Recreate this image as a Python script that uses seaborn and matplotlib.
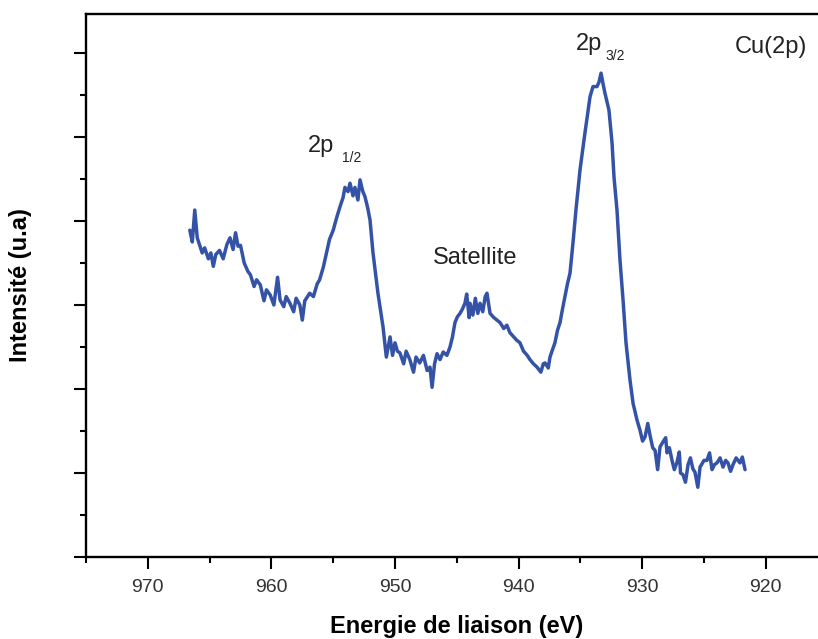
import pandas as pd
import matplotlib
matplotlib.use('Agg')
import matplotlib.pyplot as plt
from matplotlib.ticker import MultipleLocator
import seaborn as sns

# Cu(2p) XPS spectrum
energy = [966.6, 966.4, 966.2, 966.0, 965.8, 965.6, 965.4, 965.1, 964.9, 964.7,
          964.5, 964.2, 963.9, 963.6, 963.35, 963.1, 962.9, 962.7, 962.5, 962.2,
          961.9, 961.7, 961.4, 961.2, 960.9, 960.6, 960.4, 960.1, 959.8, 959.5,
          959.3, 959.0, 958.8, 958.5, 958.2, 958.0, 957.7, 957.5, 957.3, 956.9,
          956.6, 956.3, 956.1, 955.8, 955.5, 955.3, 955.0, 954.7, 954.45, 954.2,
          954.05, 953.8, 953.64, 953.4, 953.24, 953.0, 952.83, 952.6, 952.43, 952.2,
          952.02, 951.78, 951.38, 950.97, 950.7, 950.4, 950.2, 950.0, 949.8, 949.6,
          949.3, 949.1, 948.8, 948.5, 948.3, 948.0, 947.7, 947.4, 947.17, 947.0,
          946.8, 946.6, 946.36, 946.1, 945.8, 945.55, 945.35, 945.15, 944.95, 944.74,
          944.55, 944.34, 944.2, 944.0, 943.93, 943.7, 943.5, 943.3, 943.12, 942.9,
          942.7, 942.56, 942.31, 942.0, 941.75, 941.5, 941.2, 940.95, 940.7, 940.4,
          940.15, 939.89, 939.6, 939.3, 939.08, 938.8, 938.51, 938.2, 938.0, 937.86,
          937.6, 937.46, 937.3, 937.06, 936.85, 936.65, 936.45, 936.25, 936.05, 935.84,
          935.6, 935.36, 935.03, 934.63, 934.22, 933.98, 933.66, 933.5, 933.33, 933.15,
          933.01, 932.69, 932.44, 932.28, 932.04, 931.8, 931.55, 931.31, 930.99, 930.74,
          930.42, 930.18, 929.97, 929.77, 929.55, 929.37, 929.15, 928.96, 928.75, 928.56,
          928.32, 928.1, 927.99, 927.8, 927.59, 927.4, 927.18, 927.0, 926.9, 926.7,
          926.5, 926.29, 926.1, 925.9, 925.73, 925.5, 925.32, 925.0, 924.76, 924.55,
          924.35, 924.15, 923.95, 923.7, 923.46, 923.25, 923.06, 922.85, 922.65, 922.4,
          922.09, 921.9, 921.68]
intensity = [3.89, 3.75, 4.13, 3.80, 3.71, 3.62, 3.68, 3.55, 3.62, 3.46,
             3.60, 3.65, 3.55, 3.72, 3.80, 3.66, 3.86, 3.70, 3.71, 3.50,
             3.40, 3.36, 3.22, 3.30, 3.24, 3.05, 3.18, 3.12, 3.00, 3.33,
             3.06, 2.98, 3.10, 3.02, 2.92, 3.08, 3.00, 2.82, 3.05, 3.14,
             3.10, 3.25, 3.30, 3.45, 3.65, 3.78, 3.89, 4.05, 4.17, 4.28,
             4.40, 4.35, 4.45, 4.30, 4.40, 4.25, 4.49, 4.35, 4.29, 4.15,
             4.01, 3.62, 3.14, 2.74, 2.38, 2.62, 2.40, 2.55, 2.45, 2.43,
             2.30, 2.45, 2.35, 2.20, 2.38, 2.31, 2.40, 2.22, 2.26, 2.02,
             2.30, 2.42, 2.35, 2.44, 2.40, 2.50, 2.62, 2.79, 2.86, 2.90,
             2.95, 3.02, 3.13, 2.85, 3.02, 2.88, 3.08, 2.90, 3.02, 2.92,
             3.10, 3.14, 2.90, 2.85, 2.82, 2.79, 2.72, 2.76, 2.67, 2.62,
             2.58, 2.55, 2.45, 2.40, 2.35, 2.30, 2.26, 2.20, 2.30, 2.31,
             2.25, 2.38, 2.45, 2.55, 2.70, 2.79, 2.95, 3.10, 3.25, 3.38,
             3.74, 4.13, 4.61, 5.05, 5.48, 5.60, 5.60, 5.65, 5.76, 5.62,
             5.52, 5.32, 4.93, 4.52, 4.13, 3.54, 3.06, 2.55, 2.11, 1.83,
             1.63, 1.51, 1.38, 1.43, 1.59, 1.45, 1.30, 1.27, 1.04, 1.31,
             1.37, 1.42, 1.24, 1.30, 1.15, 1.04, 1.13, 1.25, 1.00, 0.98,
             0.89, 1.10, 1.18, 1.05, 1.01, 0.83, 1.07, 1.15, 1.15, 1.24,
             1.04, 1.10, 1.12, 1.18, 1.07, 1.15, 1.12, 1.02, 1.10, 1.18,
             1.12, 1.19, 1.04]

xticks = [970, 960, 950, 940, 930, 920]

df = pd.DataFrame({'energy': energy, 'intensity': intensity})

sns.set_style('ticks')
plt.rcParams['font.family'] = ['Liberation Sans', 'DejaVu Sans']

fig = plt.figure(figsize=(8.18, 6.39), dpi=100)
ax = fig.add_axes([86 / 818, 82 / 639, 741.6 / 818, 543 / 639])

sns.lineplot(data=df, x='energy', y='intensity', sort=False, color='#3453a6',
             linewidth=2.5, ax=ax)

ax.set_xlim(975, 915)
ax.set_ylim(0, 6.464)
ax.set_xticks(xticks)
ax.xaxis.set_minor_locator(MultipleLocator(5))
ax.yaxis.set_major_locator(MultipleLocator(1))
ax.yaxis.set_minor_locator(MultipleLocator(0.5))
ax.tick_params(which='major', length=8.5, width=1.5, direction='out', color='black')
ax.tick_params(which='minor', length=4, width=1.5, direction='out', color='black')
ax.tick_params(axis='x', which='major', labelsize=14, pad=7, labelcolor='#333333')
ax.tick_params(axis='y', labelleft=False)
for s in ax.spines.values():
    s.set_linewidth(1.7)
    s.set_color('black')
ax.set_xlabel('')
ax.set_ylabel('')

fig.text(457 / 818, 6 / 639, 'Energie de liaison (eV)', ha='center', va='baseline',
         fontsize=17, fontweight='bold', color='black')
fig.text(21 / 818, (639 - 285) / 639, 'Intensité (u.a)', ha='center', va='center',
         rotation=90, fontsize=17, fontweight='bold', color='black')

tc = '#222222'
ax.text(957.04, 4.82, '2p', fontsize=17, color=tc, va='baseline', ha='left')
ax.text(954.3, 4.70, '1/2', fontsize=10, color=tc, va='baseline', ha='left')
ax.text(946.93, 3.49, 'Satellite', fontsize=17, color=tc, va='baseline', ha='left')
ax.text(935.36, 6.04, '2p', fontsize=17, color=tc, va='baseline', ha='left')
ax.text(933.0, 5.92, '3/2', fontsize=10, color=tc, va='baseline', ha='left')
ax.text(922.49, 6.0, 'Cu(2p)', fontsize=17, color=tc, va='baseline', ha='left')

fig.savefig('out.png', dpi=100)
